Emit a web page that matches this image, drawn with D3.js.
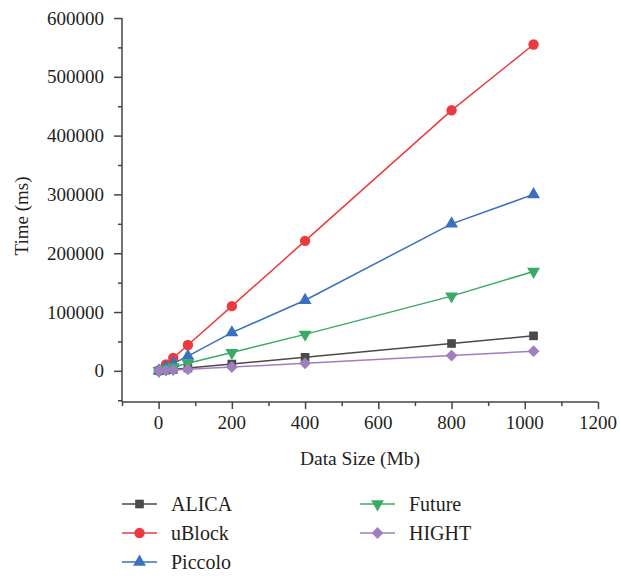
<!DOCTYPE html>
<html>
<head>
<meta charset="utf-8">
<script src="https://cdn.jsdelivr.net/npm/d3@7"></script>
<style>
  html, body { margin: 0; padding: 0; background: #fff; }
  svg { display: block; }
  text { font-family: "Liberation Serif", "DejaVu Serif", serif !important; fill: #231f20; }
</style>
</head>
<body>
<svg id="chart" width="620" height="578"></svg>
<script>
// ---- Data ----
const dataSizes = [1, 20, 40, 80, 200, 400, 800, 1024];
const seriesNames = ["ALICA", "uBlock", "Piccolo", "Future", "HIGHT"];
const alica   = [60, 1200, 2400, 4700, 11500, 23000, 46500, 59500];
const ublock  = [550, 11000, 22000, 44000, 110000, 221000, 443000, 555000];
const piccolo = [300, 6000, 12500, 25000, 65000, 120000, 250000, 300000];
const future  = [160, 3200, 6400, 13000, 31000, 62000, 127000, 169000];
const hight   = [35, 650, 1300, 2600, 6500, 12800, 26000, 33500];
const xTicks = [0, 200, 400, 600, 800, 1000, 1200];
const yTicks = [0, 100000, 200000, 300000, 400000, 500000, 600000];

const colors = ["#4a4a4a", "#ec3b40", "#3a70bf", "#3aaa66", "#a07fbf"];
const symbols = ["square", "circle", "triUp", "triDown", "diamond"];
const FONT = "'Liberation Serif', 'DejaVu Serif', serif";

const svg = d3.select("#chart");
const x = d3.scaleLinear().domain([-100, 1200]).range([122, 598]);
const y = d3.scaleLinear().domain([-53000, 600000]).range([402, 18]);

const axisColor = "#444";

// X axis
const gx = svg.append("g").attr("transform", `translate(0,${y(-53000)})`);
gx.call(d3.axisBottom(x).tickValues(d3.range(-100, 1201, 100)).tickSize(4).tickFormat(""));
gx.attr("font-family", FONT);
gx.call(g => g.selectAll(".tick").filter(d => xTicks.includes(d)).select("line").attr("y2", 7));
gx.selectAll("path, line").attr("stroke", axisColor).attr("stroke-width", 1.5);
gx.select(".domain").attr("d", `M${x(-100)},0H${x(1200)}`);
xTicks.forEach(t => {
  gx.append("text").attr("x", x(t)).attr("y", 27).attr("text-anchor", "middle")
    .attr("font-family", FONT).attr("font-size", 19).text(t);
});

// Y axis
const gy = svg.append("g").attr("transform", `translate(${x(-100)},0)`);
gy.call(d3.axisLeft(y).tickValues(d3.range(-50000, 600001, 50000)).tickSize(4).tickFormat(""));
gy.attr("font-family", FONT);
gy.call(g => g.selectAll(".tick").filter(d => yTicks.includes(d)).select("line").attr("x2", -8));
gy.selectAll("path, line").attr("stroke", axisColor).attr("stroke-width", 1.5);
gy.select(".domain").attr("d", `M0,${y(-53000)}V${y(600000)}`);
yTicks.forEach(t => {
  gy.append("text").attr("x", -18).attr("y", y(t) + 6.5).attr("text-anchor", "end")
    .attr("font-family", FONT).attr("font-size", 19).text(t);
});

// Axis titles
svg.append("text").attr("x", 360).attr("y", 465).attr("text-anchor", "middle")
  .attr("font-family", FONT).attr("font-size", 19.5).text("Data Size (Mb)");
svg.append("text").attr("transform", `translate(28,${216}) rotate(-90)`)
  .attr("text-anchor", "middle").attr("font-family", FONT).attr("font-size", 19).text("Time (ms)");

// Marker drawing
function drawMarker(g, i, cx, cy) {
  const c = colors[i];
  const s = symbols[i];
  let d, rot = 0;
  if (s === "square") d = d3.symbol(d3.symbolSquare, 75)();
  else if (s === "circle") d = d3.symbol(d3.symbolCircle, 85)();
  else if (s === "triUp") d = d3.symbol(d3.symbolTriangle, 72)();
  else if (s === "triDown") { d = d3.symbol(d3.symbolTriangle, 72)(); rot = 180; }
  else { d = d3.symbol(d3.symbolSquare, 70)(); rot = 45; }
  g.append("path").attr("d", d)
    .attr("transform", `translate(${cx},${cy}) rotate(${rot})`).attr("fill", c);
}

const allSeries = [alica, ublock, piccolo, future, hight];
const line = d3.line().x((d, j) => x(dataSizes[j])).y(d => y(d));
[0, 1, 2, 3, 4].forEach(i => {
  const g = svg.append("g");
  g.append("path").datum(allSeries[i]).attr("d", line)
    .attr("fill", "none").attr("stroke", colors[i]).attr("stroke-width", 1.5);
  allSeries[i].forEach((v, j) => drawMarker(g, i, x(dataSizes[j]), y(v)));
});

// Legend
const legendPos = [
  [122, 504], [122, 533], [122, 562], [360, 504], [360, 533]
];
seriesNames.forEach((name, i) => {
  const [lx, ly] = legendPos[i];
  const g = svg.append("g");
  g.append("line").attr("x1", lx).attr("x2", lx + 35).attr("y1", ly).attr("y2", ly)
    .attr("stroke", colors[i]).attr("stroke-width", 1.5);
  drawMarker(g, i, lx + 17.5, ly);
  g.append("text").attr("x", lx + 49).attr("y", ly + 7)
    .attr("font-family", FONT).attr("font-size", 20).text(name);
});
</script>
</body>
</html>
